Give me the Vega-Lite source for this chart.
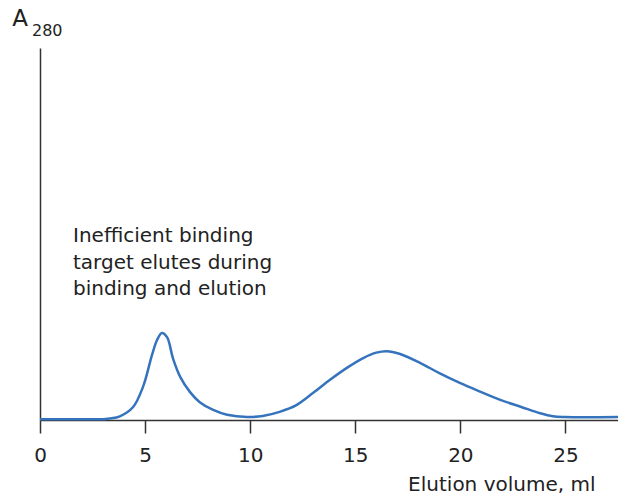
{
  "$schema": "https://vega.github.io/schema/vega-lite/v6.json",
  "autosize": {"type": "none"},
  "width": 578,
  "height": 372,
  "padding": {"left": 40, "top": 48, "right": 0, "bottom": 77},
  "background": "white",
  "config": {"view": {"stroke": null}, "font": "DejaVu Sans"},
  "layer": [
    {
      "data": {"values": [
        {"v": 0, "a": 0.2}, {"v": 2, "a": 0.2}, {"v": 3.0, "a": 0.2}, {"v": 3.3, "a": 0.4},
        {"v": 3.8, "a": 1.0}, {"v": 4.43, "a": 3.5}, {"v": 4.9, "a": 8.9}, {"v": 5.33, "a": 17.5},
        {"v": 5.57, "a": 21.5}, {"v": 5.8, "a": 23.4}, {"v": 6.05, "a": 22.2}, {"v": 6.33, "a": 16.5},
        {"v": 6.67, "a": 11.6}, {"v": 7.14, "a": 7.5}, {"v": 7.6, "a": 4.8}, {"v": 8.24, "a": 2.7},
        {"v": 8.9, "a": 1.4}, {"v": 9.86, "a": 0.8}, {"v": 10.6, "a": 1.1}, {"v": 11.4, "a": 2.2},
        {"v": 12.2, "a": 4.0}, {"v": 13.0, "a": 7.3}, {"v": 13.8, "a": 10.8}, {"v": 14.6, "a": 14.0},
        {"v": 15.4, "a": 16.7}, {"v": 16.0, "a": 18.1}, {"v": 16.5, "a": 18.5}, {"v": 17.1, "a": 17.8},
        {"v": 18.1, "a": 15.3}, {"v": 19.0, "a": 12.6}, {"v": 20.0, "a": 9.9}, {"v": 21.0, "a": 7.5},
        {"v": 21.9, "a": 5.4}, {"v": 22.9, "a": 3.5}, {"v": 23.8, "a": 1.8}, {"v": 24.4, "a": 1.0},
        {"v": 25.0, "a": 0.8}, {"v": 27.5, "a": 0.8}
      ]},
      "mark": {"type": "line", "color": "#3574bd", "strokeWidth": 2.5, "interpolate": "catmull-rom"},
      "encoding": {
        "x": {
          "field": "v", "type": "quantitative",
          "scale": {"domain": [0, 27.5], "nice": false, "zero": false},
          "axis": {
            "values": [0, 5, 10, 15, 20, 25],
            "grid": false,
            "labelFlush": false,
            "domainColor": "#333333", "domainWidth": 1.5,
            "tickColor": "#333333", "tickWidth": 1.5, "tickSize": 13,
            "labelFontSize": 20, "labelColor": "#222222", "labelPadding": 12,
            "labelFont": "DejaVu Sans",
            "title": "Elution volume, ml",
            "titleFont": "DejaVu Sans", "titleFontSize": 20, "titleFontWeight": "normal",
            "titleColor": "#222222",
            "titleAnchor": "end", "titleAlign": "right", "titleBaseline": "alphabetic",
            "titleX": 555, "titleY": 70
          }
        },
        "y": {
          "field": "a", "type": "quantitative",
          "scale": {"domain": [0, 100], "nice": false},
          "axis": {
            "grid": false, "ticks": false, "labels": false, "title": null,
            "domainColor": "#333333", "domainWidth": 1.5
          }
        }
      }
    },
    {
      "data": {"values": [
        {"v": 1.57, "a": 47.8, "t": ["Inefficient binding", "target elutes during", "binding and elution"]}
      ]},
      "mark": {"type": "text", "align": "left", "baseline": "alphabetic", "fontSize": 20, "lineHeight": 26.5, "color": "#222222", "font": "DejaVu Sans"},
      "encoding": {
        "x": {"field": "v", "type": "quantitative"},
        "y": {"field": "a", "type": "quantitative"},
        "text": {"field": "t"}
      }
    },
    {
      "data": {"values": [{"v": -0.95, "a": 107.8, "t": "A"}]},
      "mark": {"type": "text", "align": "center", "baseline": "middle", "fontSize": 23, "color": "#222222", "font": "DejaVu Sans"},
      "encoding": {
        "x": {"field": "v", "type": "quantitative"},
        "y": {"field": "a", "type": "quantitative"},
        "text": {"field": "t"}
      }
    },
    {
      "data": {"values": [{"v": -0.38, "a": 104.6, "t": "280"}]},
      "mark": {"type": "text", "align": "left", "baseline": "middle", "fontSize": 16, "color": "#222222", "font": "DejaVu Sans"},
      "encoding": {
        "x": {"field": "v", "type": "quantitative"},
        "y": {"field": "a", "type": "quantitative"},
        "text": {"field": "t"}
      }
    }
  ]
}
